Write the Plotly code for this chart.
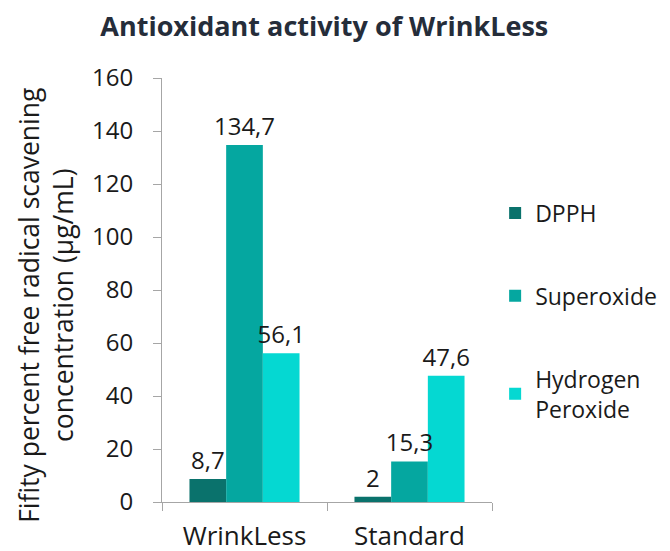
import plotly.graph_objects as go

categories = ["WrinkLess", "Standard"]
series_names = ["DPPH", "Superoxide", "Hydrogen<br>Peroxide"]
dpph = [8.7, 2]
superoxide = [134.7, 15.3]
hydrogen = [56.1, 47.6]
colors = ["#0a726c", "#05a7a0", "#05d8d2"]
y_ticks = [0, 20, 40, 60, 80, 100, 120, 140, 160]
y_title = "Fifity percent free radical scavening<br>concentration (μg/mL)"

def fmt(v):
    s = ("%g" % v)
    return s.replace(".", ",")

all_vals = [dpph, superoxide, hydrogen]
fig = go.Figure()
for i, (name, vals) in enumerate(zip(series_names, all_vals)):
    fig.add_trace(go.Bar(
        x=categories, y=vals, name=name, offsetgroup=str(i),
        marker=dict(color=colors[i], line=dict(width=0)),
        legendgroup=str(i), hoverinfo="skip",
    ))
# value labels drawn on top of all bars
for i, (name, vals) in enumerate(zip(series_names, all_vals)):
    fig.add_trace(go.Bar(
        x=categories, y=vals, offsetgroup=str(i), showlegend=False,
        marker=dict(color="rgba(0,0,0,0)", line=dict(width=0)),
        text=[fmt(v) for v in vals], textposition="outside", constraintext="none",
        textfont=dict(size=24, color="#1a1a1a", family="Open Sans"),
        cliponaxis=False, hoverinfo="skip",
    ))

fig.add_annotation(
    text=y_title, textangle=-90, xref="paper", yref="paper",
    x=-0.352, y=0.4646, xanchor="center", yanchor="middle", showarrow=False,
    font=dict(size=26.5, family="Open Sans", color="#1a1a1a"),
)

fig.update_layout(
    width=670, height=551,
    barmode="group", bargap=0.333, bargroupgap=0,
    paper_bgcolor="white", plot_bgcolor="white",
    font=dict(family="Open Sans", color="#1a1a1a"),
    title=dict(text="<b>Antioxidant activity of WrinkLess</b>", x=0.484, xanchor="center",
               y=0.951, yanchor="middle",
               font=dict(size=27, color="#252d3a", family="Open Sans")),
    margin=dict(l=162, r=178, t=78, b=49),
    showlegend=True,
    legend=dict(xref="container", yref="container", x=0.739, y=0.6525,
                xanchor="left", yanchor="top",
                font=dict(size=23, family="Open Sans", color="#1a1a1a"),
                tracegroupgap=50, itemwidth=30, traceorder="grouped"),
    xaxis=dict(showline=True, linecolor="#a6a6a6", linewidth=1, automargin=False,
               ticks="outside", tickson="boundaries", ticklen=8, tickcolor="#a6a6a6",
               ticklabelstandoff=11,
               tickfont=dict(size=26, family="Open Sans", color="#1a1a1a"), showgrid=False),
    yaxis=dict(range=[0, 160], tickvals=y_ticks, showline=True, linecolor="#a6a6a6",
               linewidth=1, ticks="outside", ticklen=8, tickcolor="#a6a6a6",
               ticklabelstandoff=15,
               showgrid=False, zeroline=False, automargin=False,
               tickfont=dict(size=24, family="Open Sans", color="#1a1a1a")),
)

fig.write_html("out.html", config={"displayModeBar": False},
               post_script="document.body.style.margin='0px';")
